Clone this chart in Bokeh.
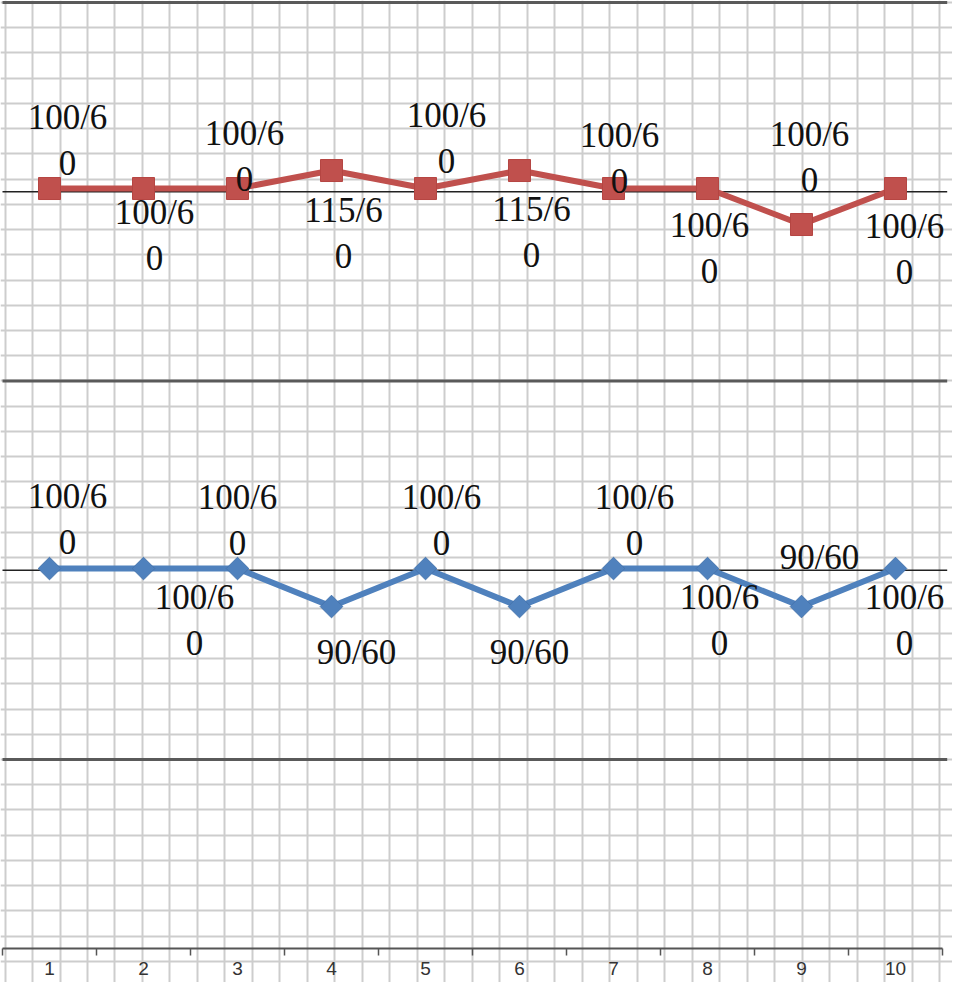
import numpy as np
from bokeh.plotting import figure
from bokeh.models import Range1d, LinearAxis, FixedTicker, ColumnDataSource
from bokeh.core.properties import value
from bokeh.embed import file_html
from bokeh.resources import INLINE

# ---------------- data ----------------
categories = [1, 2, 3, 4, 5, 6, 7, 8, 9, 10]
tick_labels = ["1", "2", "3", "4", "5", "6", "7", "8", "9", "10"]

red_values = [100, 100, 100, 115, 100, 115, 100, 100, 70, 100]
red_labels = ["100/60", "100/60", "100/60", "115/60", "100/60",
              "115/60", "100/60", "100/60", "100/60", "100/60"]

blue_values = [100, 100, 100, 90, 100, 90, 100, 100, 90, 100]
blue_labels = ["100/60", "100/60", "100/60", "90/60", "100/60",
               "90/60", "100/60", "100/60", "90/60", "100/60"]

# ---------------- label placement (style, screen px) ----------------
red_dx = [18, 11, 7, 12, 21, 12, 6, 2, 8, 9]
red_dy = [-48, 47, -32, 63, -50, 62, -30, 60, -67, 61]
blue_dx = [18, 51, 0, 25, 16, 10, 21, 12, 18, 9]
blue_dy = [-49, 52, -48, 46, -48, 46, -48, 52, -49, 52]


def wrap(s, width=5):
    return s if len(s) <= width else s[:width] + "\n" + s[width:]


RED = "#C0504D"
BLUE = "#4F81BD"
LABEL_FONT = "Liberation Serif"

W, H = 952, 982
p = figure(width=W, height=H, output_backend="svg", toolbar_location=None,
           x_axis_location=None, y_axis_location=None,
           x_range=Range1d(0.47872, 10.6064), y_range=Range1d(0.41083, 3.00528),
           min_border=0, min_border_left=0, min_border_right=0,
           min_border_top=0, min_border_bottom=0)
p.outline_line_color = None
p.background_fill_color = "white"
p.border_fill_color = "white"

p.extra_y_ranges = {
    "red": Range1d(-561.7, 256.7),
    "blue": Range1d(-8.95, 249.5),
}

# graph-paper grid
p.xgrid.ticker = FixedTicker(ticks=list(0.5266 + 0.29255 * np.arange(0, 36)))
p.ygrid.ticker = FixedTicker(ticks=list(3 - np.arange(0, 40) / 15.0))
for g in (p.xgrid, p.ygrid):
    g.grid_line_color = "#cdcdcd"
    g.grid_line_width = 2

# panel separators and baselines
panel_edges = [3, 2, 1]
baselines = [2.5, 1.5]
x_left, x_right = 0.5, 10.55
p.segment(x0=[x_left] * 3, x1=[x_right] * 3, y0=panel_edges, y1=panel_edges,
          line_color="#5a5a5a", line_width=3)
p.segment(x0=[x_left] * 2, x1=[x_right] * 2, y0=baselines, y1=baselines,
          line_color="#222222", line_width=1.3)

# red series
red_src = ColumnDataSource(dict(x=categories, y=red_values,
                                lab=[wrap(s) for s in red_labels],
                                dx=red_dx, dy=red_dy))
p.line("x", "y", source=red_src, y_range_name="red", line_color=RED, line_width=6)
p.scatter("x", "y", source=red_src, y_range_name="red", marker="square", size=22,
          fill_color=RED, line_color="#B54542", line_width=1)
p.text("x", "y", text="lab", source=red_src, y_range_name="red",
       x_offset="dx", y_offset="dy", text_align="center", text_baseline="middle",
       text_font=value(LABEL_FONT), text_font_size="35px", text_color="#111111",
       text_line_height=1.2)

# blue series
blue_src = ColumnDataSource(dict(x=categories, y=blue_values,
                                 lab=[wrap(s) for s in blue_labels],
                                 dx=blue_dx, dy=blue_dy))
p.line("x", "y", source=blue_src, y_range_name="blue", line_color=BLUE, line_width=6)
p.scatter("x", "y", source=blue_src, y_range_name="blue", marker="square", size=16,
          angle=np.pi / 4, fill_color=BLUE, line_color="#4574ad", line_width=1)
p.text("x", "y", text="lab", source=blue_src, y_range_name="blue",
       x_offset="dx", y_offset="dy", text_align="center", text_baseline="middle",
       text_font=value(LABEL_FONT), text_font_size="35px", text_color="#111111",
       text_line_height=1.2)

# category axis, drawn inside the frame
boundaries = [c - 0.5 for c in categories] + [categories[-1] + 0.5]
ax = LinearAxis(fixed_location=0.5, bounds=(boundaries[0], boundaries[-1]),
                ticker=FixedTicker(ticks=categories, minor_ticks=boundaries))
ax.major_label_overrides = {c: t for c, t in zip(categories, tick_labels)}
ax.axis_line_color = "#555555"
ax.axis_line_width = 2
ax.major_tick_line_color = None
ax.major_tick_out = 0
ax.major_tick_in = 0
ax.minor_tick_line_color = "#555555"
ax.minor_tick_line_width = 1.5
ax.minor_tick_out = 7
ax.minor_tick_in = 0
ax.major_label_text_font = "Liberation Sans"
ax.major_label_text_font_size = "19px"
ax.major_label_text_color = "#333333"
ax.major_label_standoff = 6
p.add_layout(ax, "below")

open("out.html", "w").write(file_html(p, INLINE))
